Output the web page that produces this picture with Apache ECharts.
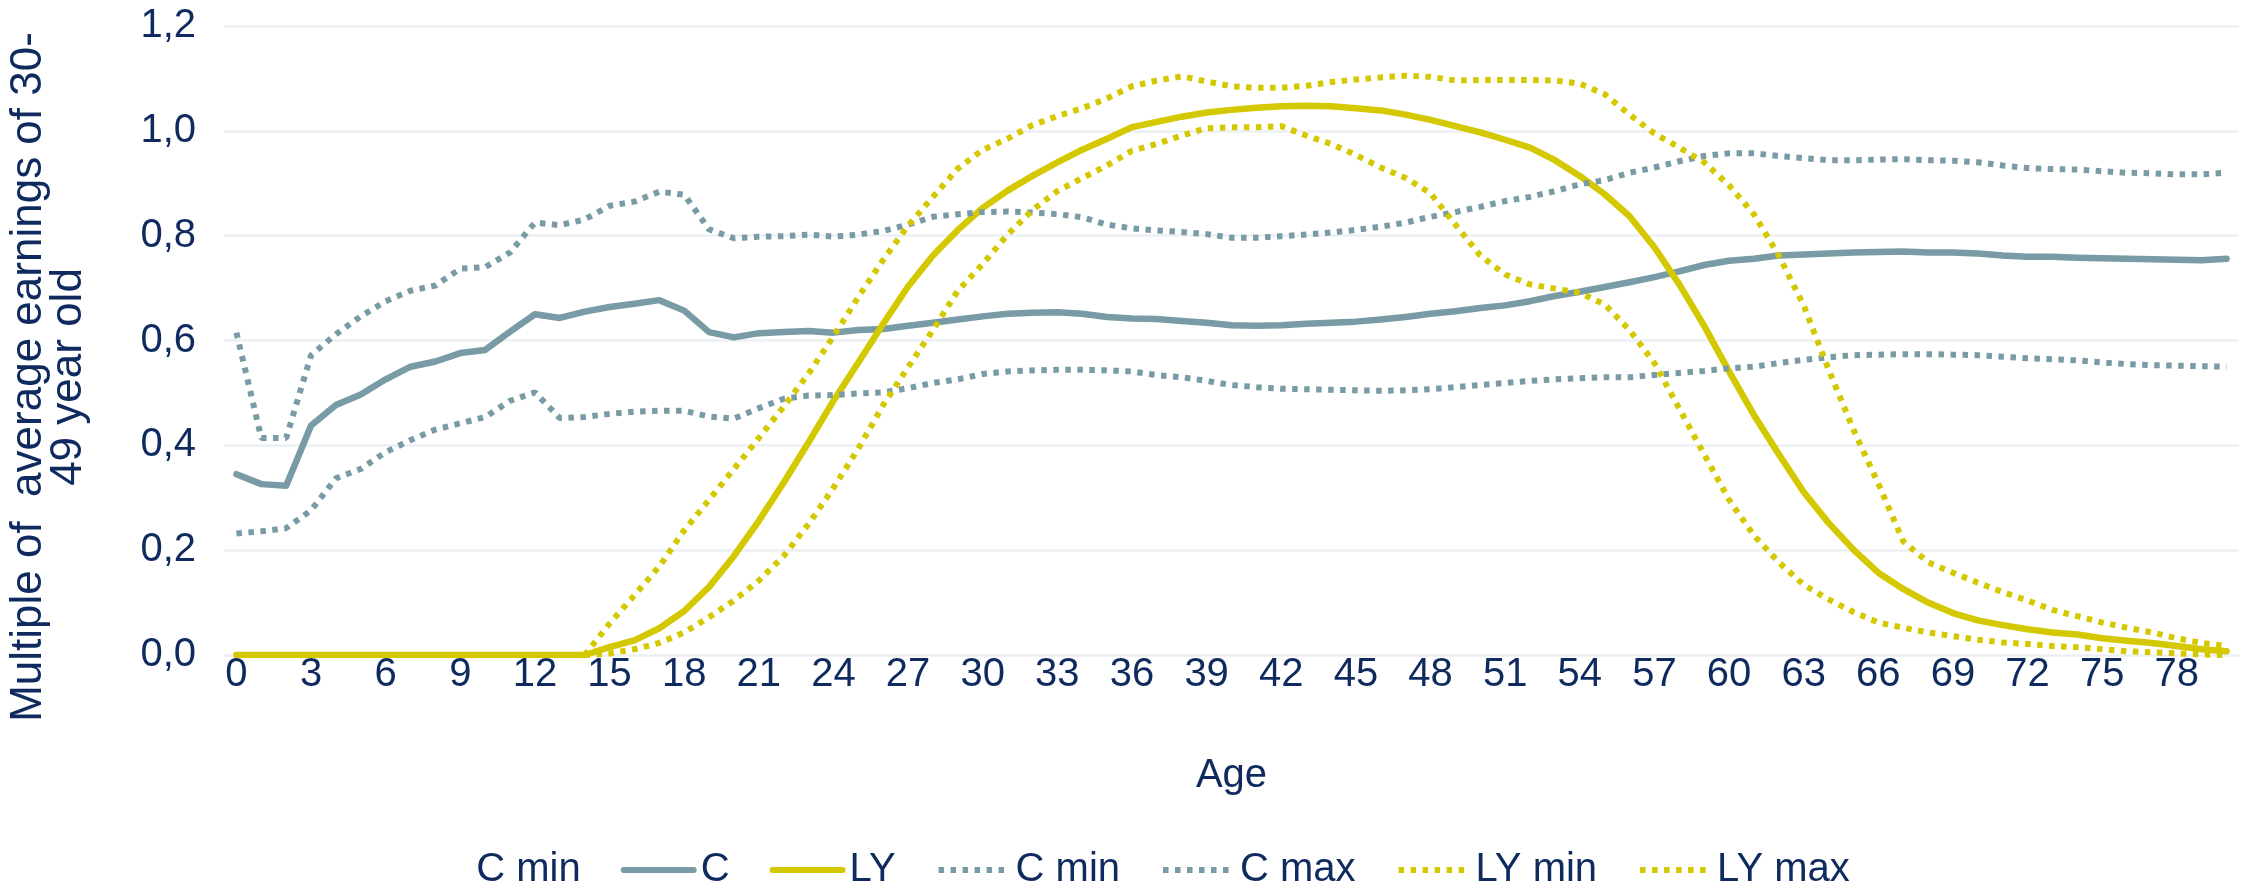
<!DOCTYPE html>
<html>
<head>
<meta charset="utf-8">
<script src="https://cdn.jsdelivr.net/npm/echarts@6/dist/echarts.min.js"></script>
<style>
html,body{margin:0;padding:0;background:#fff;}
#chart{width:2249px;height:886px;}
</style>
</head>
<body>
<div id="chart"></div>
<script>
// Categories: age 0..80
const ages = [];
for (let a = 0; a <= 80; a++) ages.push(String(a));

const yTicks = [0, 0.2, 0.4, 0.6, 0.8, 1.0, 1.2];

const cValues = [0.345,0.326,0.323,0.438,0.477,0.497,0.526,0.550,0.560,0.576,
0.582,0.617,0.650,0.643,0.655,0.664,0.670,0.677,0.657,0.616,
0.606,0.614,0.616,0.618,0.615,0.620,0.622,0.628,0.634,0.640,
0.646,0.651,0.653,0.654,0.651,0.645,0.642,0.641,0.637,0.634,
0.629,0.628,0.629,0.632,0.634,0.636,0.640,0.645,0.651,0.656,
0.662,0.667,0.675,0.685,0.693,0.702,0.711,0.721,0.732,0.744,
0.752,0.756,0.762,0.764,0.766,0.768,0.769,0.770,0.768,0.768,
0.766,0.762,0.760,0.760,0.758,0.757,0.756,0.755,0.754,0.753,0.756];

const cMaxValues = [0.615,0.414,0.414,0.572,0.612,0.646,0.675,0.695,0.705,0.737,
0.740,0.768,0.825,0.820,0.831,0.857,0.865,0.884,0.878,0.812,
0.795,0.798,0.799,0.802,0.798,0.802,0.809,0.821,0.836,0.841,
0.845,0.846,0.844,0.841,0.835,0.821,0.814,0.810,0.807,0.803,
0.796,0.796,0.799,0.802,0.806,0.811,0.817,0.825,0.836,0.845,
0.855,0.866,0.874,0.885,0.898,0.906,0.920,0.930,0.942,0.952,
0.957,0.957,0.952,0.948,0.944,0.944,0.945,0.946,0.944,0.943,
0.940,0.934,0.929,0.927,0.926,0.923,0.920,0.919,0.917,0.917,0.920];

const cMinValues = [0.232,0.236,0.242,0.276,0.337,0.355,0.387,0.410,0.430,0.442,
0.454,0.485,0.501,0.452,0.454,0.460,0.464,0.466,0.466,0.455,
0.451,0.471,0.489,0.495,0.496,0.499,0.501,0.509,0.519,0.526,
0.536,0.541,0.543,0.544,0.544,0.543,0.541,0.534,0.530,0.523,
0.515,0.511,0.508,0.507,0.506,0.505,0.504,0.505,0.507,0.511,
0.515,0.519,0.523,0.526,0.528,0.530,0.530,0.534,0.538,0.542,
0.547,0.550,0.557,0.563,0.568,0.572,0.573,0.574,0.574,0.573,
0.572,0.569,0.566,0.564,0.562,0.558,0.555,0.553,0.552,0.551,0.550];

const lyValues = [0,0,0,0,0,0,0,0,0,0,
0,0,0,0,0,0.015,0.028,0.051,0.084,0.130,
0.189,0.256,0.329,0.406,0.485,0.558,0.632,0.703,0.762,0.811,
0.853,0.886,0.914,0.940,0.964,0.985,1.007,1.017,1.027,1.035,
1.040,1.044,1.047,1.048,1.047,1.043,1.039,1.031,1.021,1.009,
0.997,0.983,0.968,0.944,0.914,0.879,0.837,0.778,0.707,0.628,
0.541,0.458,0.383,0.311,0.252,0.201,0.157,0.126,0.100,0.080,
0.066,0.057,0.049,0.043,0.039,0.032,0.027,0.023,0.017,0.011,0.007];

const lyMaxValues = [0,0,0,0,0,0,0,0,0,0,
0,0,0,0,0,0.060,0.114,0.169,0.238,0.296,
0.355,0.414,0.474,0.537,0.608,0.683,0.754,0.819,0.874,0.928,
0.964,0.985,1.011,1.028,1.043,1.062,1.085,1.096,1.104,1.094,
1.085,1.082,1.082,1.086,1.093,1.098,1.102,1.105,1.103,1.096,
1.097,1.097,1.097,1.096,1.090,1.070,1.031,0.995,0.968,0.940,
0.896,0.841,0.762,0.667,0.545,0.430,0.327,0.217,0.177,0.157,
0.138,0.120,0.104,0.086,0.074,0.062,0.052,0.043,0.032,0.023,0.017];

const lyMinValues = [0,0,0,0,0,0,0,0,0,0,
0,0,0,0,0,0.003,0.011,0.023,0.043,0.072,
0.104,0.142,0.189,0.250,0.319,0.394,0.477,0.549,0.620,0.695,
0.746,0.802,0.849,0.885,0.910,0.934,0.962,0.975,0.991,1.005,
1.007,1.007,1.009,0.991,0.975,0.954,0.930,0.910,0.881,0.821,
0.762,0.726,0.707,0.699,0.691,0.669,0.620,0.557,0.470,0.383,
0.296,0.228,0.177,0.134,0.106,0.082,0.062,0.052,0.043,0.036,
0.029,0.024,0.021,0.017,0.015,0.011,0.007,0.005,0.003,0.001,0.000];

const TEXT = '#0f2a5f';
const GRAY = '#789ba5';
const YELLOW = '#d4c800';
const GRID = '#eceff4';
const FONT = '"Liberation Sans", Arial, sans-serif';

const dotted = (color) => ({ color: color, width: 6, type: [5.5, 6.5], cap: 'butt' });
const solid = (color) => ({ color: color, width: 6.5, cap: 'round', join: 'round' });

const chart = echarts.init(document.getElementById('chart'), null, { renderer: 'canvas' });
chart.setOption({
  animation: false,
  backgroundColor: '#ffffff',
  textStyle: { fontFamily: FONT, color: TEXT },
  grid: { left: 224, right: 10, top: 26, bottom: 231, containLabel: false },
  graphic: [{
    type: 'text',
    x: 49, y: 377,
    rotation: Math.PI / 2,
    style: {
      text: 'Multiple of  average earnings of 30-\n49 year old',
      fontSize: 44, fontFamily: FONT, fill: TEXT,
      align: 'center', verticalAlign: 'middle', lineHeight: 40
    }
  }],
  legend: {
    left: 'center',
    top: 845,
    itemWidth: 70,
    itemHeight: 14,
    itemGap: 40,
    itemStyle: { opacity: 0 },
    lineStyle: { width: 6 },
    textStyle: { fontSize: 40, color: TEXT, fontFamily: FONT, padding: [0, 0, 0, 2] },
    formatter: (n) => n.trim(),
    data: [
      { name: 'C min ', icon: 'none' },
      'C', 'LY', 'C min', 'C max', 'LY min', 'LY max'
    ]
  },
  xAxis: {
    type: 'category',
    data: ages,
    boundaryGap: true,
    name: 'Age',
    nameLocation: 'middle',
    nameGap: 101,
    nameTextStyle: { fontSize: 40, color: TEXT, fontFamily: FONT },
    axisLine: { show: false },
    axisTick: { show: false },
    axisLabel: { interval: 2, fontSize: 40, color: TEXT, fontFamily: FONT, margin: 0 },
    splitLine: { show: false }
  },
  yAxis: {
    type: 'value',
    min: yTicks[0],
    max: yTicks[yTicks.length - 1],
    interval: 0.2,
    axisLine: { show: false },
    axisTick: { show: false },
    axisLabel: {
      fontSize: 40, color: TEXT, fontFamily: FONT, margin: 28,
      formatter: (v) => v.toFixed(1).replace('.', ',')
    },
    splitLine: { lineStyle: { color: GRID, width: 2.5 } }
  },
  series: [
    { name: 'C min ', type: 'line', data: [], symbol: 'none', lineStyle: { opacity: 0, width: 0 } },
    { name: 'C', type: 'line', data: cValues, symbol: 'none', lineStyle: solid(GRAY), itemStyle: { color: GRAY } },
    { name: 'LY', type: 'line', data: lyValues, symbol: 'none', lineStyle: solid(YELLOW), itemStyle: { color: YELLOW } },
    { name: 'C min', type: 'line', data: cMinValues, symbol: 'none', lineStyle: dotted(GRAY), itemStyle: { color: GRAY } },
    { name: 'C max', type: 'line', data: cMaxValues, symbol: 'none', lineStyle: dotted(GRAY), itemStyle: { color: GRAY } },
    { name: 'LY min', type: 'line', data: lyMinValues, symbol: 'none', lineStyle: dotted(YELLOW), itemStyle: { color: YELLOW } },
    { name: 'LY max', type: 'line', data: lyMaxValues, symbol: 'none', lineStyle: dotted(YELLOW), itemStyle: { color: YELLOW } }
  ]
});
</script>
</body>
</html>
